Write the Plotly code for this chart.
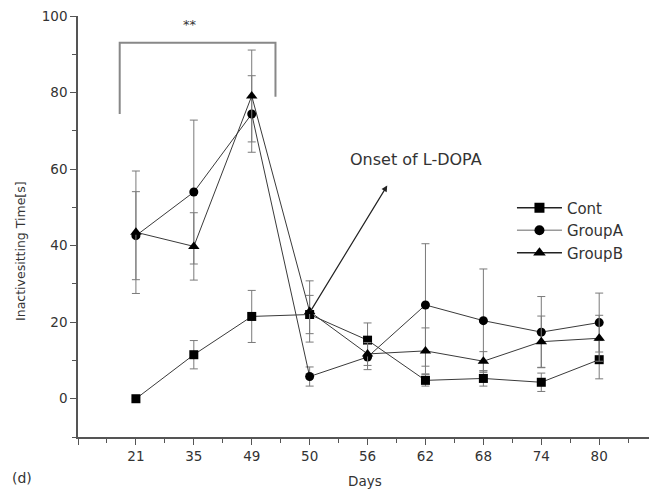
import plotly.graph_objects as go

days = ["21", "35", "49", "50", "56", "62", "68", "74", "80"]
cont = [0, 11.5, 21.5, 22, 15.3, 4.8, 5.3, 4.3, 10.2]
cont_err = [0, 3.7, 6.8, 5, 4.5, 1.5, 2, 2.4, 5]
group_a = [42.6, 54, 74.4, 5.8, 10.9, 24.5, 20.4, 17.4, 19.9]
group_a_err = [11.5, 18.8, 10, 2.5, 3.3, 16, 13.5, 9.3, 7.7]
group_b = [43.5, 39.8, 79.1, 22.8, 11.7, 12.5, 9.8, 14.9, 15.8]
group_b_err = [16, 8.8, 12, 8, 3, 6, 2.5, 6.7, 6]

pos = list(range(1, len(days) + 1))
FONT = "DejaVu Sans, Arial, sans-serif"
LINE = "#3a3a3a"
ERR = "#7a7a7a"

series = [
    ("Cont", cont, cont_err, "square", 9, "#222222"),
    ("GroupA", group_a, group_a_err, "circle", 9, "#9a9a9a"),
    ("GroupB", group_b, group_b_err, "triangle-up", 10, "#222222"),
]

fig = go.Figure()
for name, vals, errs, sym, size, legline in series:
    fig.add_trace(go.Scatter(
        x=pos, y=vals, mode="lines+markers", name=name, showlegend=False,
        line=dict(color=LINE, width=1),
        marker=dict(symbol=sym, size=size, color="black"),
        error_y=dict(type="data", array=errs, visible=True, color=ERR,
                     thickness=1, width=4),
    ))
for name, vals, errs, sym, size, legline in series:
    fig.add_trace(go.Scatter(
        x=[None], y=[None], mode="lines+markers", name=name,
        line=dict(color=legline, width=1.5),
        marker=dict(symbol=sym, size=size + 1, color="black"),
    ))

fig.update_layout(
    width=649, height=493,
    margin=dict(l=78, r=0, t=16, b=56),
    paper_bgcolor="white", plot_bgcolor="white",
    font=dict(family=FONT, size=13, color="#333333"),
    showlegend=True,
    legend=dict(x=0.760, y=0.583, xanchor="left", yanchor="top",
                font=dict(size=15, color="#333333"), bgcolor="rgba(0,0,0,0)",
                itemwidth=45, tracegroupgap=0),
)
fig.update_xaxes(
    range=[0, 9.86], tickmode="array", tickvals=[0] + pos, ticktext=[""] + days,
    showline=True, linecolor="#555555", linewidth=1.5, showgrid=False, zeroline=False,
    ticks="outside", ticklen=6, tickcolor="#555555", tickwidth=1.2,
    minor=dict(ticks="outside", ticklen=4, tick0=0.5, dtick=1, tickcolor="#555555", tickwidth=1.2),
    tickfont=dict(size=13.5, color="#333333"),
)
fig.update_yaxes(
    range=[-10, 100], tickmode="array", tickvals=[0, 20, 40, 60, 80, 100],
    showline=True, linecolor="#555555", linewidth=1.5, showgrid=False, zeroline=False,
    ticks="outside", ticklen=6, tickcolor="#555555", tickwidth=1.2,
    minor=dict(ticks="outside", ticklen=4, tick0=-10, dtick=10, tickcolor="#555555", tickwidth=1.2),
    tickfont=dict(size=13.5, color="#333333"),
)

# significance bracket
fig.add_shape(type="path", path="M 0.72,74.4 L 0.72,93 L 3.41,93 L 3.41,78.9",
              xref="x", yref="y", line=dict(color="#888888", width=2))
fig.add_annotation(x=1.93, y=97.8, xref="x", yref="y", text="**", showarrow=False,
                   xanchor="center", yanchor="middle",
                   font=dict(size=13, color="#333333"))
# L-DOPA onset arrow
fig.add_annotation(x=5.34, y=55.7, ax=4, ay=22.5, xref="x", yref="y", axref="x", ayref="y",
                   text="", showarrow=True, arrowhead=2, arrowsize=1, arrowwidth=1.2,
                   arrowcolor="#222222")
fig.add_annotation(x=5.83, y=62.4, xref="x", yref="y", text="Onset of L-DOPA",
                   showarrow=False, xanchor="center", yanchor="middle",
                   font=dict(size=16, color="#333333"))
# axis titles and panel label
fig.add_annotation(x=-0.0998, y=0.442, xref="paper", yref="paper",
                   text="Inactivesitting Time[s]", textangle=-90, showarrow=False,
                   xanchor="center", yanchor="middle",
                   font=dict(size=12.5, color="#333333"))
fig.add_annotation(x=0.503, y=-0.1045, xref="paper", yref="paper", text="Days",
                   showarrow=False, xanchor="center", yanchor="middle",
                   font=dict(size=13.5, color="#333333"))
fig.add_annotation(x=-0.098, y=-0.097, xref="paper", yref="paper", text="(d)",
                   showarrow=False, xanchor="center", yanchor="middle",
                   font=dict(size=14, color="#333333"))

fig.write_html("out.html")
